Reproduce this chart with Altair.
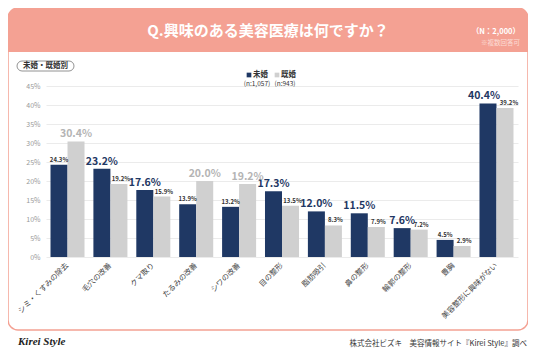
import altair as alt
import pandas as pd

categories = ["シミ・くすみの除去", "毛穴の改善", "クマ取り", "たるみの改善", "シワの改善",
              "目の整形", "脂肪吸引", "鼻の整形", "輪郭の整形", "豊胸", "美容整形に興味がない"]
groups = ["未婚", "既婚"]
unmarried = [24.3, 23.2, 17.6, 13.9, 13.2, 17.3, 12.0, 11.5, 7.6, 4.5, 40.4]
married = [30.4, 19.2, 15.9, 20.0, 19.2, 13.5, 8.3, 7.9, 7.2, 2.9, 39.2]
unmarried_big = [False, True, True, False, False, True, True, True, True, False, True]
married_big = [True, False, False, True, True, False, False, False, False, False, False]
y_ticks = [0, 5, 10, 15, 20, 25, 30, 35, 40, 45]

NAVY = "#1F3864"
GRAY = "#D0D0D0"
SALMON = "#F4A193"
FONT = "Noto Sans CJK JP"

rows = []
for i, c in enumerate(categories):
    rows.append({"category": c, "group": groups[0], "value": unmarried[i], "big": unmarried_big[i]})
    rows.append({"category": c, "group": groups[1], "value": married[i], "big": married_big[i]})
df = pd.DataFrame(rows)
df["label"] = df["value"].map(lambda v: f"{v:.1f}%")
df["last"] = df["category"] == categories[-1]

one = pd.DataFrame({"a": [0]})

x_enc = alt.X("category:N", sort=categories, title=None,
              scale=alt.Scale(paddingInner=0.207, paddingOuter=0.105),
              axis=alt.Axis(labelAngle=-45, labelAlign="right", labelBaseline="middle",
                            labelFontSize=7.5, labelColor="#444", labelFont=FONT,
                            labelPadding=7, labelLimit=200, ticks=False, domain=False,
                            grid=False, labelOverlap=False))
xoff = alt.XOffset("group:N", sort=groups, scale=alt.Scale(paddingInner=0, paddingOuter=0))
y_enc = alt.Y("value:Q", title=None,
              scale=alt.Scale(domain=[0, 45], nice=False),
              axis=alt.Axis(values=y_ticks, labelExpr="datum.value + '%'",
                            labelFontSize=7, labelColor="#999", labelFont=FONT,
                            labelPadding=6, ticks=False, domain=False, labelOverlap=False,
                            grid=True, gridColor="#EBEBEB", gridWidth=1))

bars = alt.Chart(df).mark_bar().encode(
    x=x_enc, xOffset=xoff, y=y_enc,
    color=alt.Color("group:N", scale=alt.Scale(domain=groups, range=[NAVY, GRAY]), legend=None),
)


def labels(sub, size, color, dx=0):
    return alt.Chart(sub).mark_text(
        font=FONT, fontSize=size, fontWeight="bold", color=color, baseline="bottom", dy=-2, dx=dx
    ).encode(x=x_enc, xOffset=xoff, y=y_enc, text="label:N")


is_u = df.group == groups[0]
is_m = df.group == groups[1]
label_layers = [
    labels(df[df.big & is_u & ~df["last"]], 10.5, NAVY),
    labels(df[df.big & is_u & df["last"]], 10.5, NAVY, dx=-4),
    labels(df[df.big & is_m], 10.5, "#B4B4B4"),
    labels(df[~df.big & is_u], 6, "#333"),
    labels(df[~df.big & is_m & ~df["last"]], 6, "#333", dx=2),
    labels(df[~df.big & is_m & df["last"]], 6, "#333", dx=4),
]


def txt(x, y, s, **kw):
    return alt.Chart(one).mark_text(font=FONT, **kw).encode(
        x=alt.value(x), y=alt.value(y), text=alt.value(s))


card = alt.Chart(one).mark_rect(
    cornerRadius=10, fillOpacity=0, stroke=SALMON, strokeWidth=1.5
).encode(x=alt.value(-38), x2=alt.value(482), y=alt.value(-78), y2=alt.value(244))

header = alt.Chart(one).mark_rect(
    cornerRadiusTopLeft=10, cornerRadiusTopRight=10, color=SALMON
).encode(x=alt.value(-38), x2=alt.value(482), y=alt.value(-78), y2=alt.value(-34))

badge = alt.Chart(one).mark_rect(
    cornerRadius=5, fill="white", stroke="#777", strokeWidth=0.8
).encode(x=alt.value(-29), x2=alt.value(28), y=alt.value(-25), y2=alt.value(-15))

leg_u = alt.Chart(one).mark_square(size=22, color=NAVY, opacity=1).encode(
    x=alt.value(203), y=alt.value(-11))
leg_m = alt.Chart(one).mark_square(size=22, color=GRAY, opacity=1).encode(
    x=alt.value(231), y=alt.value(-11))

layers = [
    card, header, badge,
    txt(222, -55, "Q.興味のある美容医療は何ですか？", fontSize=15, fontWeight="bold",
        color="white", align="center", baseline="middle"),
    txt(474, -54, "（N：2,000）", fontSize=7.5, fontWeight="bold", color="white",
        align="right", baseline="middle"),
    txt(474, -43, "※複数回答可", fontSize=6.5, color="#FCDCD5", align="right", baseline="middle"),
    txt(-0.5, -20, "未婚・既婚別", fontSize=7.5, fontWeight="bold", color="#333",
        align="center", baseline="middle"),
    leg_u, leg_m,
    txt(207, -11, "未婚", fontSize=7.5, fontWeight="bold", color="#333", align="left", baseline="middle"),
    txt(235, -11, "既婚", fontSize=7.5, fontWeight="bold", color="#333", align="left", baseline="middle"),
    txt(211, -2, "(n:1,057)", fontSize=6.5, color="#333", align="center", baseline="middle"),
    txt(239, -2, "(n:943)", fontSize=6.5, color="#333", align="center", baseline="middle"),
    bars, *label_layers,
    alt.Chart(one).mark_text(font="Liberation Serif", fontSize=11, fontStyle="italic",
                             fontWeight="bold", color="#222", align="left", baseline="middle").encode(
        x=alt.value(-28), y=alt.value(256), text=alt.value("Kirei Style")),
    txt(481, 258, "株式会社ビズキ　美容情報サイト『Kirei Style』調べ", fontSize=7.5,
        color="#333", align="right", baseline="middle"),
]

chart = alt.layer(*layers).properties(
    width=472, height=171,
    autosize="none",
    padding={"left": 38, "top": 78, "right": 10, "bottom": 92},
    background="white",
).configure_view(strokeWidth=0)

chart.save("out.html", embed_options={"renderer": "svg", "actions": False})
